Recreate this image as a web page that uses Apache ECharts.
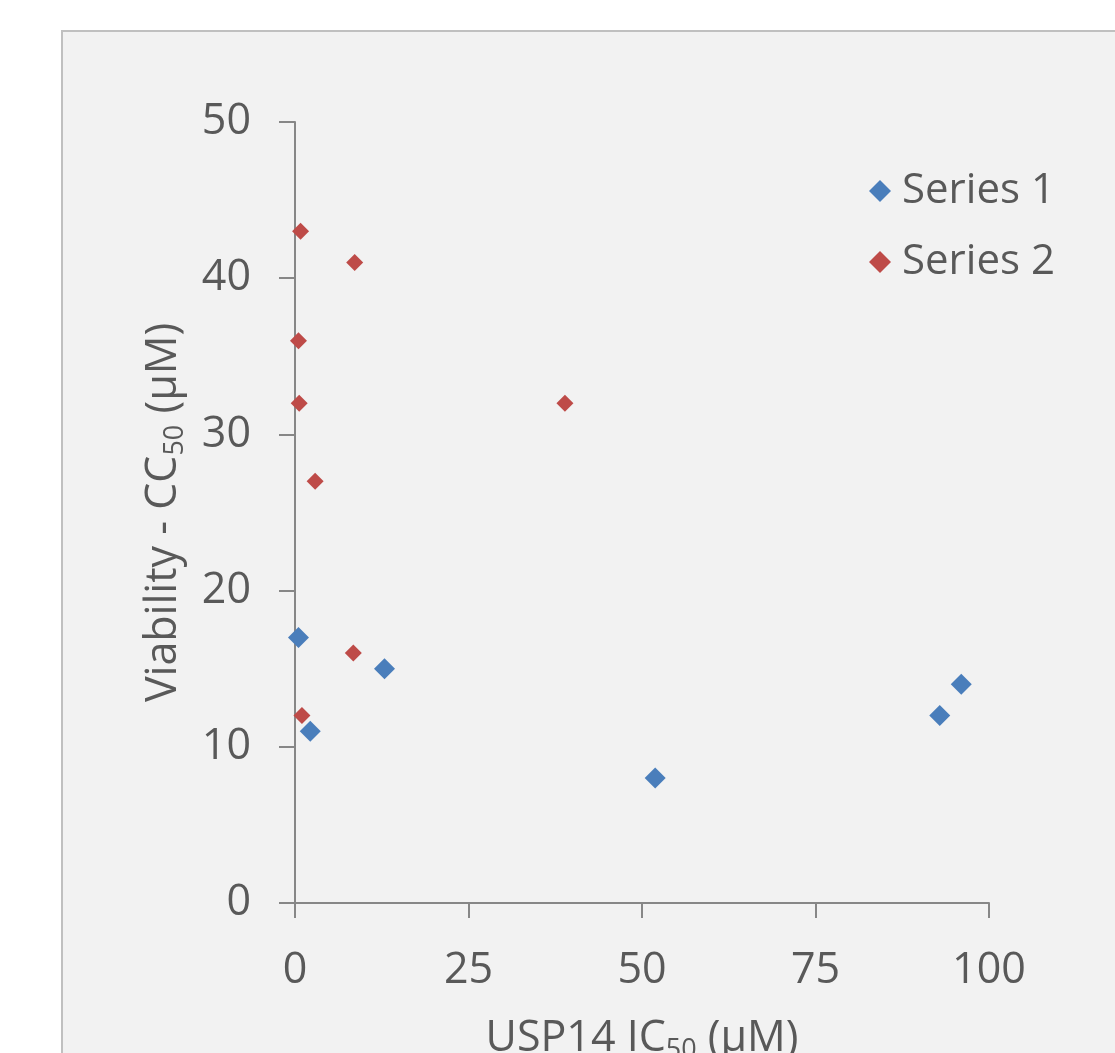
<!DOCTYPE html>
<html>
<head>
<meta charset="utf-8">
<script src="https://cdn.jsdelivr.net/npm/echarts@6/dist/echarts.min.js"></script>
<style>
  html, body { margin: 0; padding: 0; background: #ffffff; }
  #chart { width: 1115px; height: 1053px; }
</style>
</head>
<body>
<div id="chart"></div>
<script>
// Series 1 (blue) and Series 2 (red) points: [USP14 IC50, CC50]
var series1 = [[0.5, 17], [2.2, 11], [12.9, 15], [51.9, 8], [92.9, 12], [96, 14]];
var series2 = [[0.8, 43], [8.6, 41], [0.5, 36], [0.6, 32], [38.9, 32], [2.9, 27], [8.4, 16], [1.0, 12]];
var seriesNames = ['Series 1', 'Series 2'];
var xTicks = [0, 25, 50, 75, 100];
var yTicks = [0, 10, 20, 30, 40, 50];

var font = '"Open Sans", "Noto Sans", sans-serif';
var txt = '#595959';
var axisGray = '#878787';

var myChart = echarts.init(document.getElementById('chart'));
myChart.setOption({
    backgroundColor: '#ffffff',
    animation: false,
    textStyle: { fontFamily: font },
    graphic: [{
        type: 'rect',
        z: -10,
        shape: { x: 62, y: 31, width: 1200, height: 1100 },
        style: { fill: '#f2f2f2', stroke: '#c0c0c0', lineWidth: 2 }
    }],
    legend: {
        orient: 'vertical',
        left: 864,
        top: 165,
        itemGap: 29,
        itemWidth: 22,
        itemHeight: 22,
        icon: 'diamond',
        data: seriesNames,
        textStyle: { color: txt, fontSize: 42, fontFamily: font, padding: [0, 0, 0, 6] }
    },
    grid: { left: 295, right: 126, top: 122, bottom: 150, outerBoundsMode: 'none', containLabel: false },
    xAxis: {
        type: 'value',
        min: xTicks[0],
        max: xTicks[xTicks.length - 1],
        interval: 25,
        name: '{a|USP14 IC}{s|50}{a| (µM)}',
        nameLocation: 'middle',
        nameGap: 110,
        nameTextStyle: {
            rich: {
                a: { fontSize: 43, color: txt, fontFamily: font },
                s: { fontSize: 27, color: txt, fontFamily: font, padding: [24, 0, 0, 0] }
            }
        },
        axisLine: { show: true, lineStyle: { color: axisGray, width: 2 } },
        axisTick: { show: true, inside: false, length: 15, lineStyle: { color: axisGray, width: 2 } },
        axisLabel: { color: txt, fontSize: 43, margin: 46, fontFamily: font },
        splitLine: { show: false }
    },
    yAxis: {
        type: 'value',
        min: yTicks[0],
        max: yTicks[yTicks.length - 1],
        interval: 10,
        name: '{a|Viability - CC}{s|50}{a| (µM)}',
        nameLocation: 'middle',
        nameGap: 106,
        nameRotate: 90,
        nameTextStyle: {
            rich: {
                a: { fontSize: 43, color: txt, fontFamily: font },
                s: { fontSize: 27, color: txt, fontFamily: font, padding: [24, 0, 0, 0] }
            }
        },
        axisLine: { show: true, lineStyle: { color: axisGray, width: 2 } },
        axisTick: { show: true, inside: false, length: 16, lineStyle: { color: axisGray, width: 2 } },
        axisLabel: { color: txt, fontSize: 43, margin: 44, fontFamily: font },
        splitLine: { show: false }
    },
    series: [
        {
            name: seriesNames[0],
            type: 'scatter',
            symbol: 'diamond',
            symbolSize: 21,
            itemStyle: { color: '#4a7ebb', opacity: 1 },
            data: series1
        },
        {
            name: seriesNames[1],
            type: 'scatter',
            symbol: 'diamond',
            symbolSize: 17,
            itemStyle: { color: '#be4b48', opacity: 1 },
            data: series2
        }
    ]
});
</script>
</body>
</html>
